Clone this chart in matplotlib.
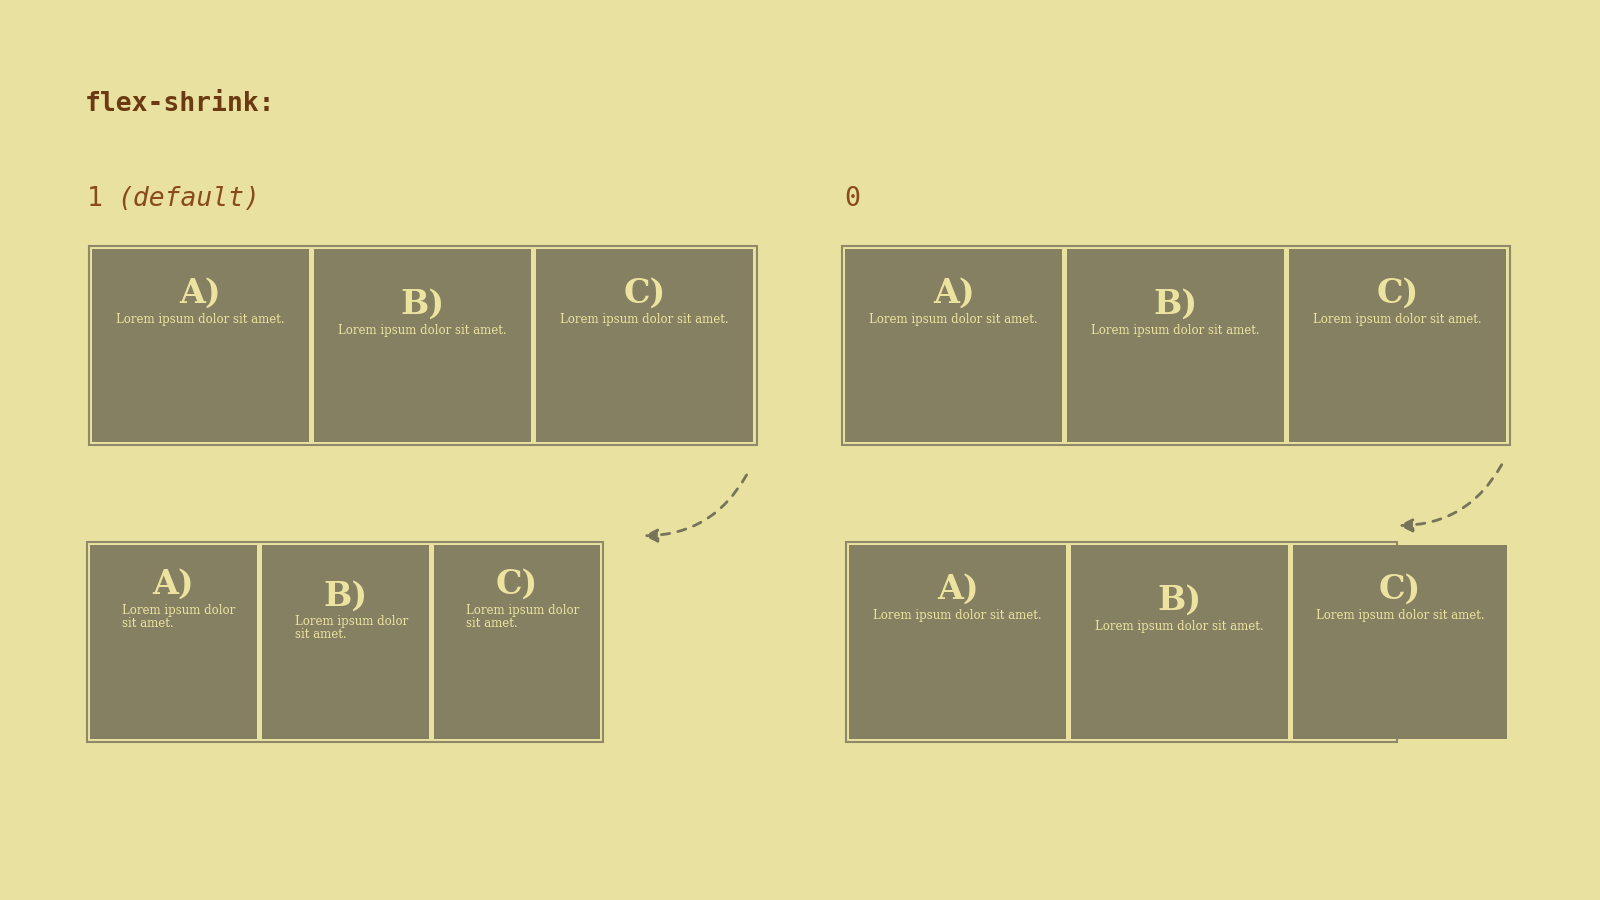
import matplotlib.pyplot as plt
from matplotlib.patches import Rectangle, FancyArrowPatch

BG = '#e8e19f'
ITEM = '#858062'
EDGE = '#8f886a'
LIGHT = '#ece3a0'
DARK = '#6b3a12'

labels = ['A)', 'B)', 'C)']
lorem_wide = 'Lorem ipsum dolor sit amet.'
lorem_narrow = 'Lorem ipsum dolor\nsit amet.'

# each panel: container (x0, y0, x1, y1), item x ranges, item y range, title ys, lorem text
panels = [
    dict(box=(87, 241, 742, 436), items=[(90, 303), (308, 520), (525, 738)], iy=(244, 433),
         ty=[287, 298, 287], text=lorem_wide, narrow=False),
    dict(box=(825, 241, 1480, 436), items=[(828, 1041), (1046, 1258), (1263, 1476)], iy=(244, 433),
         ty=[287, 298, 287], text=lorem_wide, narrow=False),
    dict(box=(85, 531, 591, 727), items=[(88, 252), (257, 420), (425, 588)], iy=(534, 724),
         ty=[573, 584, 573], text=lorem_narrow, narrow=True),
    dict(box=(829, 531, 1369, 727), items=[(832, 1045), (1050, 1262), (1267, 1477)], iy=(534, 724),
         ty=[577, 588, 577], text=lorem_wide, narrow=False),
]

arrows = [((733, 463), (628, 525)), ((1473, 453), (1368, 515))]

fig = plt.figure(figsize=(16, 9), dpi=100, facecolor=BG)
ax = fig.add_axes([0, 0, 1, 1])
ax.set_xlim(0, 1568)
ax.set_ylim(882, 0)
ax.axis('off')
ax.set_facecolor(BG)

ax.text(83, 102, 'flex-shrink:', family='DejaVu Sans Mono', fontsize=19,
        fontweight='bold', color=DARK, va='center')
ax.text(85, 195, '1 ', family='DejaVu Sans Mono', fontsize=19, color='#8a4a1a', va='center')
ax.text(115, 195, '(default)', family='DejaVu Sans Mono', fontsize=19, style='italic',
        color='#8a4a1a', va='center')
ax.text(827, 195, '0', family='DejaVu Sans Mono', fontsize=19, color='#8a4a1a', va='center')

for p in panels:
    x0, y0, x1, y1 = p['box']
    ax.add_patch(Rectangle((x0, y0), x1 - x0, y1 - y0, fill=False, ec=EDGE, lw=1.5, zorder=1))
    iy0, iy1 = p['iy']
    for (a, b), lab, ty in zip(p['items'], labels, p['ty']):
        ax.add_patch(Rectangle((a, iy0), b - a, iy1 - iy0, fc=ITEM, ec='none', zorder=2))
        cx = (a + b) / 2
        ax.text(cx, ty, lab, family='DejaVu Serif', fontweight='bold', fontsize=24,
                color=LIGHT, ha='center', va='center', zorder=3)
        if p['narrow']:
            ax.text(a + 32, ty + 19, p['text'], family='DejaVu Serif', fontsize=8.5,
                    color=LIGHT, ha='left', va='top', linespacing=0.95, zorder=3)
        else:
            ax.text(cx, ty + 26, p['text'], family='DejaVu Serif', fontsize=8.5,
                    color=LIGHT, ha='center', va='center', zorder=3)

for start, end in arrows:
    ax.add_patch(FancyArrowPatch(start, end, connectionstyle='arc3,rad=-0.3',
                                 arrowstyle='-|>,head_length=8,head_width=4',
                                 linestyle=(0, (3, 3)), lw=2, color='#77735a',
                                 mutation_scale=1, zorder=4))

fig.savefig('out.png', dpi=100, facecolor=BG)
